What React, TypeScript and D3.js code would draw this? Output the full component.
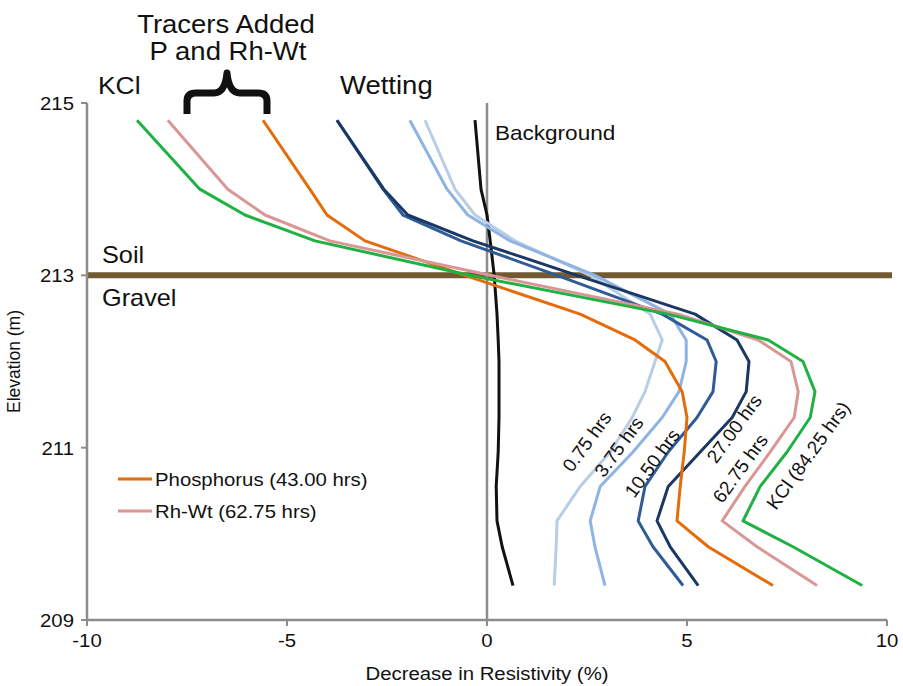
import React from 'react';
import * as d3 from 'd3';

// elevation of each measurement (m)
const elevation = [214.8, 214.0, 213.7, 213.4, 213.0, 212.55, 212.25, 212.0, 211.65, 211.35, 210.95, 210.55, 210.15, 209.85, 209.4];

// decrease in resistivity (%) for each run
const background = [-0.3, -0.15, 0, 0.08, 0.18, 0.25, 0.28, 0.3, 0.3, 0.3, 0.28, 0.23, 0.25, 0.38, 0.65];
const hrs075 = [-1.55, -0.8, -0.3, 0.7, 2.58, 4.08, 4.38, 4.2, 3.95, 3.63, 3.08, 2.33, 1.75, 1.73, 1.68];
const hrs375 = [-1.93, -1.0, -0.48, 0.58, 2.7, 4.58, 4.98, 4.98, 4.8, 4.38, 3.65, 2.83, 2.58, 2.7, 2.95];
const hrs1050 = [-3.75, -2.6, -2.1, -0.65, 1.75, 4.38, 5.5, 5.73, 5.65, 5.25, 4.53, 3.95, 3.78, 4.15, 4.9];
const hrs2700 = [-3.75, -2.58, -1.98, -0.35, 2.25, 5.2, 6.25, 6.55, 6.48, 6.13, 5.33, 4.53, 4.25, 4.58, 5.28];
const phosphorus = [-5.6, -4.43, -4.0, -3.05, -0.55, 2.33, 3.7, 4.45, 4.88, 5.0, 4.93, 4.83, 4.75, 5.53, 7.15];
const rhwt = [-7.98, -6.48, -5.55, -3.93, 0.08, 4.78, 6.78, 7.6, 7.78, 7.68, 7.08, 6.45, 5.88, 6.75, 8.25];
const kcl = [-8.75, -7.18, -6.05, -4.3, -0.43, 4.53, 7.03, 7.9, 8.2, 8.08, 7.5, 6.83, 6.4, 7.65, 9.38];

const xTicks = [-10, -5, 0, 5, 10];
const yTicks = [209, 211, 213, 215];
const soilGravel = 213;

const series = [
  { name: 'Background', values: background, color: '#111111' },
  { name: '0.75 hrs', values: hrs075, color: '#b9cde5' },
  { name: '3.75 hrs', values: hrs375, color: '#8db4e2' },
  { name: '10.50 hrs', values: hrs1050, color: '#2f5c96' },
  { name: '27.00 hrs', values: hrs2700, color: '#1b3763' },
  { name: 'Phosphorus (43.00 hrs)', values: phosphorus, color: '#e46c0a' },
  { name: 'Rh-Wt (62.75 hrs)', values: rhwt, color: '#d99694' },
  { name: 'KCl (84.25 hrs)', values: kcl, color: '#1fb141' },
];

// rotated curve labels: [text, x value, elevation]
const curveLabels: [string, number, number][] = [
  ['0.75 hrs', 2.5, 211.07],
  ['3.75 hrs', 3.3, 211.01],
  ['10.50 hrs', 4.13, 210.82],
  ['27.00 hrs', 6.18, 211.22],
  ['62.75 hrs', 6.33, 210.76],
  ['KCl (84.25 hrs)', 8.03, 210.91],
];

const legendItems = ['Phosphorus (43.00 hrs)', 'Rh-Wt (62.75 hrs)'];

const W = 903;
const H = 686;
const margin = { top: 103, right: 16, bottom: 66, left: 87 };
const axisColor = '#8c8c8c';
const font = 'Liberation Sans, Arial, sans-serif';

function T({ x, y, size, anchor = 'start', rot = 0, children, color = '#111' }: any) {
  return (
    <text
      transform={`translate(${x},${y}) scale(1.1,1)${rot ? ` rotate(${rot})` : ''}`}
      fontSize={size}
      textAnchor={anchor}
      fill={color}
      fontFamily={font}
    >
      {children}
    </text>
  );
}

export default function App() {
  const x = d3.scaleLinear().domain([-10, 10]).range([margin.left, W - margin.right]);
  const y = d3.scaleLinear().domain([209, 215]).range([H - margin.bottom, margin.top]);

  const line = d3
    .line<number>()
    .x((d) => x(d))
    .y((_, i) => y(elevation[i]));

  const x0 = x(-10);
  const x1 = x(10);
  const yb = y(209);
  const yt = y(215);

  const colorOf = (n: string) => series.find((s) => s.name === n)!.color;

  return (
    <svg width={W} height={H} style={{ position: 'absolute', left: 0, top: 0, background: '#fff' }}>
      {/* soil / gravel boundary */}
      <line x1={x0} x2={x1 + 5} y1={y(soilGravel)} y2={y(soilGravel)} stroke="#715a31" strokeWidth={6} />

      {/* zero line */}
      <line x1={x(0)} x2={x(0)} y1={yt} y2={yb} stroke={axisColor} strokeWidth={2.5} />

      {/* axes */}
      <line x1={x0} x2={x0} y1={yt} y2={yb} stroke={axisColor} strokeWidth={2.5} />
      <line x1={x0} x2={x1} y1={yb} y2={yb} stroke={axisColor} strokeWidth={2.5} />
      {yTicks.map((t) => (
        <g key={t}>
          <line x1={x0 - 6} x2={x0} y1={y(t)} y2={y(t)} stroke={axisColor} strokeWidth={2} />
          <T x={x0 - 13} y={y(t) + 7} size={18.5} anchor="end">{t}</T>
        </g>
      ))}
      {xTicks.map((t) => (
        <g key={t}>
          <line x1={x(t)} x2={x(t)} y1={yb} y2={yb + 6} stroke={axisColor} strokeWidth={2} />
          <T x={x(t)} y={yb + 27} size={18.5} anchor="middle">{t}</T>
        </g>
      ))}
      <T x={(x0 + x1) / 2} y={H - 6} size={18.5} anchor="middle">Decrease in Resistivity (%)</T>
      <T x={20} y={(yt + yb) / 2} size={17.5} anchor="middle" rot={-90}>Elevation (m)</T>

      {/* data */}
      {series.map((s) => (
        <path key={s.name} d={line(s.values) || ''} fill="none" stroke={s.color} strokeWidth={3} strokeLinejoin="round" />
      ))}

      {/* curve labels */}
      {curveLabels.map(([label, v, e]) => (
        <text
          key={label}
          transform={`translate(${x(v)},${y(e)}) rotate(-54)`}
          fontSize={19}
          textAnchor="middle"
          dominantBaseline="central"
          fill="#111"
          fontFamily={font}
        >
          {label}
        </text>
      ))}

      {/* legend */}
      {legendItems.map((n, i) => (
        <g key={n}>
          <line x1={118} x2={152} y1={479 + i * 32} y2={479 + i * 32} stroke={colorOf(n)} strokeWidth={3} />
          <T x={155} y={479 + i * 32 + 6.5} size={18.5}>{n}</T>
        </g>
      ))}

      {/* annotations */}
      <T x={98} y={94} size={24}>KCl</T>
      <T x={340} y={94} size={25}>Wetting</T>
      <T x={226} y={33} size={25} anchor="middle">Tracers Added</T>
      <T x={228} y={60} size={25} anchor="middle">P and Rh-Wt</T>
      <T x={495} y={140} size={20.5}>Background</T>
      <T x={102} y={263} size={23}>Soil</T>
      <T x={102} y={306} size={23}>Gravel</T>
      <path
        d="M187,114 L187,101 Q187,93 196,93 L214,93 Q225,93 227,73 Q229,93 240,93 L258,93 Q267,93 267,101 L267,114"
        fill="none"
        stroke="#111"
        strokeWidth={7}
        strokeLinejoin="round"
      />
    </svg>
  );
}
